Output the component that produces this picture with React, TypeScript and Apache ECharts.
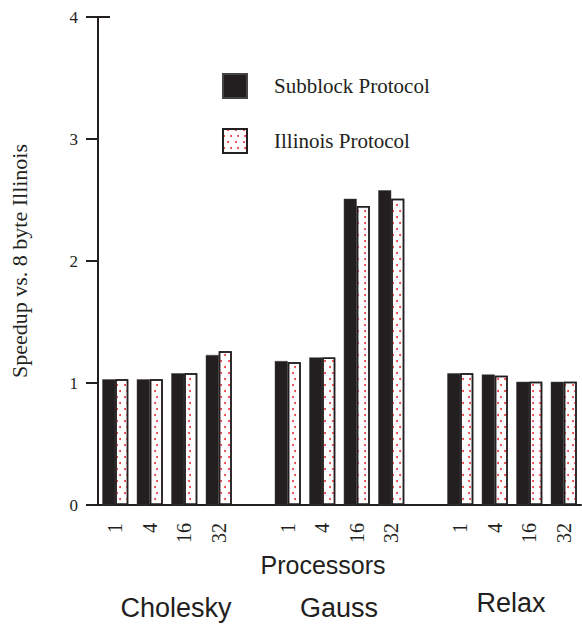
import React, { useEffect, useRef } from "react";
import * as echarts from "echarts";

const categories = ["1", "4", "16", "32", "", "1", "4", "16", "32", "", "1", "4", "16", "32"];
const subblock = [1.03, 1.03, 1.08, 1.23, null, 1.18, 1.21, 2.51, 2.58, null, 1.08, 1.07, 1.01, 1.01];
const illinois = [1.03, 1.03, 1.08, 1.26, null, 1.17, 1.21, 2.45, 2.51, null, 1.08, 1.06, 1.01, 1.01];
const groups = ["Cholesky", "Gauss", "Relax"];
const seriesNames = ["Subblock Protocol", "Illinois Protocol"];

const INK = "#231f20";
const SERIF = "'Liberation Serif', 'Times New Roman', serif";
const SANS = "'Liberation Sans', Arial, sans-serif";

export default function App() {
  const ref = useRef<HTMLDivElement>(null);
  useEffect(() => {
    if (!ref.current) return;
    const chart = echarts.init(ref.current, undefined, { renderer: "svg" });
    const groupText = (text: string, x: number, y: number) => ({
      type: "text",
      x,
      y,
      style: {
        text,
        fontFamily: SANS,
        fontSize: 27,
        fill: INK,
        textAlign: "center",
        textVerticalAlign: "middle",
      },
    });
    chart.setOption({
      animation: false,
      backgroundColor: "#fff",
      grid: { left: 95, right: 1, top: 17, bottom: 128, containLabel: false },
      legend: {
        orient: "vertical",
        left: 222,
        top: 73,
        padding: 0,
        itemWidth: 24,
        itemHeight: 24,
        itemGap: 29,
        icon: "rect",
        textStyle: {
          fontFamily: SERIF,
          fontSize: 21,
          lineHeight: 24,
          color: INK,
          padding: [0, 0, 0, 22],
        },
        data: seriesNames,
      },
      xAxis: {
        type: "category",
        data: categories,
        axisLine: { lineStyle: { color: INK, width: 2 } },
        axisTick: { alignWithLabel: true, length: 12, lineStyle: { color: INK, width: 2 } },
        axisLabel: {
          rotate: 90,
          margin: 18,
          interval: 0,
          fontFamily: SERIF,
          fontSize: 20,
          color: INK,
        },
      },
      yAxis: {
        type: "value",
        min: 0,
        max: 4,
        interval: 1,
        name: "Speedup vs. 8 byte Illinois",
        nameLocation: "middle",
        nameGap: 68,
        nameTextStyle: { fontFamily: SERIF, fontSize: 22, color: INK },
        axisLine: { show: true, lineStyle: { color: INK, width: 2 } },
        axisTick: { show: true, length: 12, lineStyle: { color: INK, width: 2 } },
        axisLabel: { margin: 20, fontFamily: SERIF, fontSize: 17, color: INK },
        splitLine: { show: false },
      },
      series: [
        {
          name: seriesNames[0],
          type: "bar",
          data: subblock,
          barWidth: 13,
          barGap: "0%",
          itemStyle: { color: INK, borderColor: "#444", borderWidth: 0.5 },
        },
        {
          name: seriesNames[1],
          type: "bar",
          data: illinois,
          barWidth: 13,
          barGap: "0%",
          itemStyle: {
            color: "#ffffff",
            borderColor: INK,
            borderWidth: 1.5,
            decal: {
              symbol: "circle",
              symbolSize: 1,
              color: "#e8353b",
              dashArrayX: [
                [1.8, 4.6],
                [0, 3.2, 1.8, 1.4],
              ],
              dashArrayY: [1.8, 3.6],
              rotation: 0,
            },
          },
        },
      ],
      graphic: [
        {
          type: "line",
          shape: { x1: 96, y1: 17, x2: 110, y2: 17 },
          style: { stroke: INK, lineWidth: 2 },
        },
        {
          type: "text",
          x: 323,
          y: 565,
          style: {
            text: "Processors",
            fontFamily: SANS,
            fontSize: 25,
            fill: INK,
            textAlign: "center",
            textVerticalAlign: "middle",
          },
        },
        groupText(groups[0], 176, 608),
        groupText(groups[1], 339, 608),
        groupText(groups[2], 511, 603),
      ],
    });
    return () => chart.dispose();
  }, []);
  return <div ref={ref} style={{ width: 582, height: 633, position: "absolute", left: 0, top: 0 }} />;
}
